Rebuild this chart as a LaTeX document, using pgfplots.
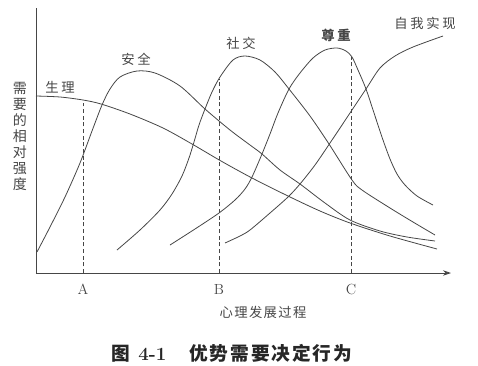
\documentclass[border=0pt]{standalone}
\usepackage{pgfplots}
\pgfplotsset{compat=1.18}
\usetikzlibrary{arrows.meta}
\usepackage{fontspec}
\newfontfamily\cjk{Noto Sans CJK SC}
\definecolor{ink}{RGB}{70,70,70}
\newcommand{\ls}{\hspace{2pt}}
\begin{document}
\begin{tikzpicture}[x=1pt,y=1pt]
\useasboundingbox (0,0) rectangle (358.5,273.75);
\begin{axis}[
  at={(27pt,69pt)}, anchor=south west,
  scale only axis, width=312pt, height=198.75pt,
  xmin=36, xmax=452, ymin=0, ymax=265,
  clip=false,
  axis lines=left,
  axis line style={draw=none},
  xtick={83,219,351}, xticklabels={A,B,C},
  ytick=\empty,
  major tick length=0pt,
  xticklabel style={font=\fontsize{11}{11}\selectfont, text=ink, yshift=-5pt},
  every axis plot/.append style={ink, line width=0.6pt, no markers},
]
% axis lines
\draw[ink, line width=0.6pt] (axis cs:36,265) -- (axis cs:36,0);
\draw[ink, line width=0.6pt, -{Stealth[length=6pt,width=4pt]}] (axis cs:36,0) -- (axis cs:451,0);
% physiological
\addplot[smooth] coordinates {(36,177) (60,176) (83,173) (101,169) (130,159) (163,145) (192,129) (221,112) (252,95) (288,77) (320,62) (350,50) (390,37) (437,24)};
% safety
\addplot[smooth] coordinates {(37,21) (50,46) (65,76) (80,110) (92,142) (102,168) (110,184) (120,196) (137,202) (155,200) (180,187) (205,164) (230,143) (250,128) (262,119) (280,103) (300,89) (325,70) (350,53) (380,42) (407,36) (435,32)};
% social
\addplot[smooth] coordinates {(117,23) (140,43) (160,63) (172,79) (182,97) (189,115) (194,131) (199,148) (205,164) (212,181) (220,196) (233,213) (245,217) (260,213) (275,201) (289,184) (310,157) (329,129) (352,93) (362,83) (390,65) (413,51) (435,38)};
% esteem
\addplot[smooth] coordinates {(170,28) (195,44) (219,60) (235,73) (245,84) (252,96) (262,119) (270,139) (278,160) (289,184) (300,200) (313,215) (325,223) (337,225) (346,222) (352,216) (358,203) (366,184) (375,157) (383,133) (390,114) (397,99) (405,88) (417,77) (433,68)};
% self-actualization
\addplot[smooth] coordinates {(225,30) (240,37) (250,43) (270,60) (288,76) (300,89) (315,108) (330,130) (352,163) (366,184) (380,205) (395,217) (413,226) (443,237)};
% dashed guides
\addplot[dash pattern=on 3pt off 2pt, line width=0.5pt] coordinates {(83,0) (83,170)};
\addplot[dash pattern=on 3pt off 2pt, line width=0.5pt] coordinates {(219,0) (219,194)};
\addplot[dash pattern=on 3pt off 2pt, line width=0.5pt] coordinates {(351,0) (351,216)};
% labels
\node[text=ink, font=\cjk\fontsize{10}{10}\selectfont] at (axis cs:60,186) {生\ls 理};
\node[text=ink, font=\cjk\fontsize{10}{10}\selectfont] at (axis cs:136,214) {安\ls 全};
\node[text=ink, font=\cjk\fontsize{10}{10}\selectfont] at (axis cs:241,230) {社\ls 交};
\node[text=ink, font=\cjk\bfseries\fontsize{10}{10}\selectfont] at (axis cs:336,238) {尊\ls 重};
\node[text=ink, font=\cjk\fontsize{10}{10}\selectfont] at (axis cs:425,250) {自\ls 我\ls 实\ls 现};
\node[text=ink, font=\cjk\fontsize{10.5}{12}\selectfont, align=center] at (axis cs:20,136.5) {需\\ 要\\ 的\\ 相\\ 对\\ 强\\ 度};
\node[text=ink, font=\cjk\fontsize{10}{10}\selectfont] at (axis cs:263,-39) {心\hspace{1pt}理\hspace{1pt}发\hspace{1pt}展\hspace{1pt}过\hspace{1pt}程};
\node[text=black!85, font=\cjk\bfseries\fontsize{14}{14}\selectfont] at (axis cs:232,-80) {图\hspace{6pt}{\rmfamily\bfseries 4-1}\hspace{17pt}优\hspace{1.5pt}势\hspace{1.5pt}需\hspace{1.5pt}要\hspace{1.5pt}决\hspace{1.5pt}定\hspace{1.5pt}行\hspace{1.5pt}为};
\end{axis}
\end{tikzpicture}
\end{document}
